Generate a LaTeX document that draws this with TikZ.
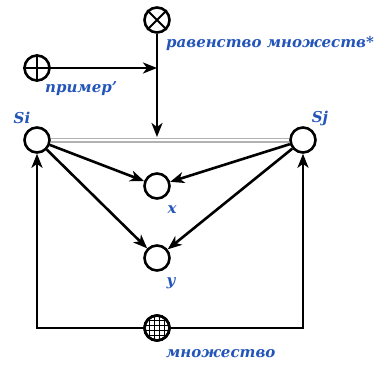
\documentclass[tikz,border=0pt]{standalone}
\usepackage{fontspec}
\setmainfont{DejaVu Serif}
\usetikzlibrary{arrows.meta, calc}

\definecolor{lblblue}{RGB}{35,85,185}

\begin{document}
\begin{tikzpicture}[x=1pt, y=-1pt,
                    place/.style={circle, draw=black, fill=white, line width=2.6pt, minimum size=25pt, inner sep=0pt},
                    lbl/.style={text=lblblue, font=\bfseries\itshape\fontsize{15}{17}\selectfont, inner sep=0pt},
                    flow/.style={-{Stealth[length=14pt, width=11pt, inset=4pt]}, line width=2.6pt},
                    equal/.style={draw=gray!60, double=white, double distance=1.8pt, line width=1.6pt}]

            \useasboundingbox (0,0) rectangle (377,367);

            % places
            \node[place] (si) at (37,140)  {};
            \node[place] (sj) at (303,140) {};
            \node[place] (x)  at (157,186) {};
            \node[place] (y)  at (157,258) {};

            % operators
            \node[place] (otimes) at (157,20) {};
            \draw[line width=2pt] (otimes.45) -- (otimes.225) (otimes.135) -- (otimes.315);
            \node[place] (oplus) at (37,68) {};
            \draw[line width=2pt] (oplus.north) -- (oplus.south) (oplus.west) -- (oplus.east);
            \node[place] (grid) at (157,328) {};
            \begin{scope}
                \clip (grid.center) circle (12pt);
                \foreach \d in {-7.5,-2.5,2.5,7.5} {
                    \draw[line width=1.3pt] ($(grid.center)+(\d,-13)$) -- ($(grid.center)+(\d,13)$);
                    \draw[line width=1.3pt] ($(grid.center)+(-13,\d)$) -- ($(grid.center)+(13,\d)$);
                }
            \end{scope}
            \node[place, fill=none] (gridrim) at (grid.center) {};

            \coordinate (join) at (157,68);
            \coordinate (eq)   at (157,137);

            % labels
            \node[lbl, anchor=west] (l_eq)  at (166,43)  {равенство множеств*};
            \node[lbl, anchor=west] (l_ex)  at (45,89)   {пример'};
            \node[lbl] (l_si)  at (22,118)  {Si};
            \node[lbl] (l_sj)  at (320,118) {Sj};
            \node[lbl] (l_x)   at (172,210) {x};
            \node[lbl] (l_y)   at (171,283) {y};
            \node[lbl, anchor=west] (l_set) at (166,354) {множество};

            % connectors
            \draw[equal] (si) -- (sj);
            \draw[line width=2.6pt] (otimes) -- (join);
            \draw[flow] (join) -- (eq);
            \draw[flow] (oplus) -- (join);

            \draw[flow] (si) -- (x);
            \draw[flow] (sj) -- (x);
            \draw[flow] (si) -- (y);
            \draw[flow] (sj) -- (y);

            \draw[flow] (grid) -| (si);
            \draw[flow] (grid) -| (sj);
        \end{tikzpicture}
\end{document}
